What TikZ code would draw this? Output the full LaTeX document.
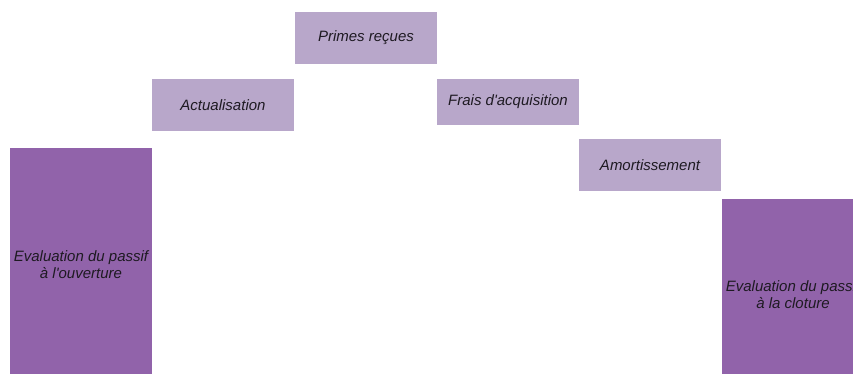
\documentclass[tikz,border=0pt]{standalone}
\usepackage{fontspec}
\setmainfont{Liberation Sans}
\begin{document}
\definecolor{deepviolet}{HTML}{9163AA}
\definecolor{paleviolet}{HTML}{B8A7CA}
\definecolor{labelink}{HTML}{1E1A22}
\begin{tikzpicture}[x=1pt,y=-1pt,
  every node/.style={inner sep=0pt,outer sep=0pt,text=labelink,
    font=\fontsize{15}{17}\selectfont\itshape,align=center},
  stepbox/.style={fill=paleviolet,minimum width=142,minimum height=52,anchor=north west},
  pillar/.style={fill=deepviolet,minimum width=142,anchor=north west}]
  \useasboundingbox (0,0) rectangle (853,374);
  \clip (0,0) rectangle (853,374);
  \fill[white] (0,0) rectangle (853,374);
  % opening and closing valuations
  \node[pillar,minimum height=234] (open) at (10,148) {Evaluation du passif\\à l\textquotesingle ouverture};
  \node[pillar,minimum height=192] (close) at (722,199) {Evaluation du passif\\à la cloture};
  % movements between the two valuations
  \node[stepbox] (actu) at (152,79) {Actualisation};
  \node[stepbox] (primes) at (295,12) {Primes reçues};
  \node[stepbox,minimum height=46] (frais) at (437,79) {Frais d\textquotesingle acquisition};
  \node[stepbox] (amort) at (579,139) {Amortissement};
\end{tikzpicture}
\end{document}
